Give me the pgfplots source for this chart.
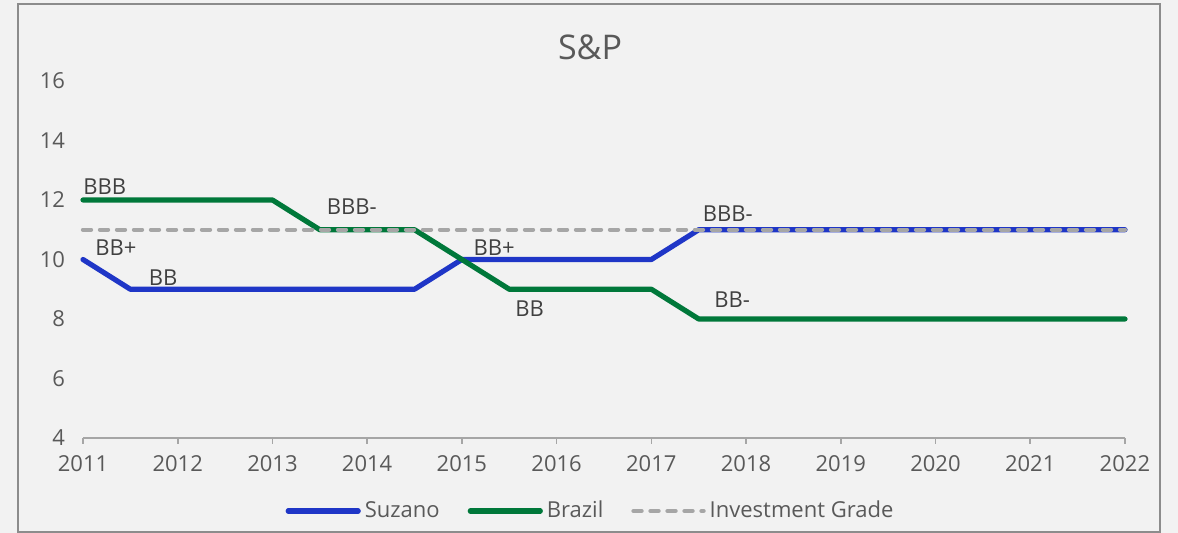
\documentclass[border=0pt]{standalone}
\usepackage{pgfplots}
\pgfplotsset{compat=1.18}
\usepackage{fontspec}
\setmainfont{Open Sans}
\definecolor{bg}{HTML}{F2F2F2}
\definecolor{frame}{HTML}{8C8C8C}
\definecolor{txt}{HTML}{595959}
\definecolor{lbl}{HTML}{404040}
\definecolor{suz}{HTML}{1F36C7}
\definecolor{bra}{HTML}{00783A}
\definecolor{ig}{HTML}{A6A6A6}
\begin{document}
\begin{tikzpicture}
\fill[bg] (0,0) rectangle (589pt,266.5pt);
\draw[frame, line width=0.8pt] (9pt,0.5pt) rectangle (580pt,264.5pt);
\node[txt, font=\fontsize{17}{20}\selectfont] at (295pt,243pt) {S\&P};
\begin{axis}[
  at={(41.5pt,47.5pt)}, anchor=south west,
  scale only axis, width=521pt, height=178.5pt,
  xmin=2011, xmax=2022, ymin=4, ymax=16,
  xtick={2011,...,2022}, ytick={4,6,...,16},
  axis x line*=bottom, axis y line*=left,
  y axis line style={draw=none}, ytick style={draw=none},
  x axis line style={draw=ig, line width=0.8pt},
  xtick style={draw=ig, line width=0.8pt},
  tick align=outside, major tick length=3pt,
  /pgf/number format/assume math mode=true,
  /pgf/number format/1000 sep={},
  tick label style={txt, font=\fontsize{11}{13}\selectfont},
  xticklabel style={yshift=-2pt},
  yticklabel style={xshift=-2.5pt},
  clip=false,
  legend columns=3,
  legend style={at={(0.488,-0.2045)}, anchor=center, draw=none, fill=none,
    font=\fontsize{11}{13}\selectfont, text=txt,
    /tikz/every even column/.append style={column sep=12pt}},
  legend image code/.code={\draw[#1] (0pt,0pt) -- (35pt,0pt);},
]
\addplot[suz, line width=2.6pt, line cap=round, line join=round] coordinates {
(2011,10) (2011.5,9) (2014.5,9) (2015,10) (2017,10) (2017.5,11) (2022,11)};
\addlegendentry{Suzano}
\addplot[bra, line width=2.6pt, line cap=round, line join=round] coordinates {
(2011,12) (2013,12) (2013.5,11) (2014.5,11) (2015.5,9) (2017,9) (2017.5,8) (2022,8)};
\addlegendentry{Brazil}
\addplot[ig, line width=2.2pt, line cap=round, dash pattern=on 4pt off 4.5pt] coordinates {
(2011,11) (2022,11)};
\addlegendentry{Investment Grade}
\begin{scope}[every node/.style={anchor=base west, text=lbl, font=\fontsize{11}{13}\selectfont, inner sep=0pt}]
\node at (axis cs:2011,12.17) {BBB};
\node at (axis cs:2011.127,10.12) {BB+};
\node at (axis cs:2011.69,9.14) {BB};
\node at (axis cs:2013.57,11.5) {BBB-};
\node at (axis cs:2015.12,10.12) {BB+};
\node at (axis cs:2015.56,8.1) {BB};
\node at (axis cs:2017.54,11.29) {BBB-};
\node at (axis cs:2017.66,8.37) {BB-};
\end{scope}
\end{axis}
\end{tikzpicture}
\end{document}
